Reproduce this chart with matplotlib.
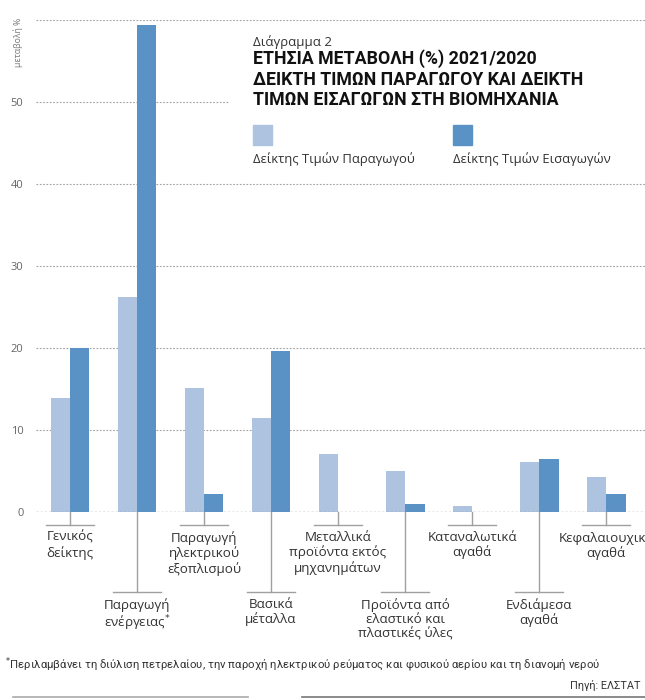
import matplotlib
matplotlib.use('Agg')
import matplotlib.pyplot as plt
import numpy as np
from matplotlib.lines import Line2D
from matplotlib.patches import Rectangle

# ---------------------------------------------------------------------------
# Data (annual change %, 2021/2020)
# ---------------------------------------------------------------------------
categories = [
    'Γενικός\nδείκτης',
    'Παραγωγή\nενέργειας$^{*}$',
    'Παραγωγή\nηλεκτρικού\nεξοπλισμού',
    'Βασικά\nμέταλλα',
    'Μεταλλικά\nπροϊόντα εκτός\nμηχανημάτων',
    'Προϊόντα από\nελαστικό και\nπλαστικές ύλες',
    'Καταναλωτικά\nαγαθά',
    'Ενδιάμεσα\nαγαθά',
    'Κεφαλαιουχικά\nαγαθά',
]
producer_prices = [13.9, 26.2, 15.1, 11.5, 7.1, 5.0, 0.7, 6.1, 4.3]
import_prices = [20.0, 59.4, 2.2, 19.6, 0.0, 1.0, 0.0, 6.5, 2.2]
yticks = [0, 10, 20, 30, 40, 50]
gridlines = [10, 20, 30, 40, 50, 60]

series_names = ['Δείκτης Τιμών Παραγωγού', 'Δείκτης Τιμών Εισαγωγών']
LIGHT = '#adc3df'
DARK = '#5a92c6'
GRID = '#a0a0a0'
TEXT = '#333333'
NARROW = ['Roboto', 'DejaVu Sans']

plt.rcParams['font.family'] = ['Open Sans', 'DejaVu Sans']

W, H = 645, 700
fig = plt.figure(figsize=(W / 100, H / 100), dpi=100)
ax = fig.add_axes([36 / W, 1 - 512 / H, (W - 36) / W, (512 - 20) / H])

x = np.arange(len(categories))
bw = 0.285
ax.bar(x - bw / 2 - 0.005, producer_prices, bw, color=LIGHT, zorder=2)
ax.bar(x + bw / 2 + 0.005, import_prices, bw, color=DARK, zorder=2)

ax.set_xlim(-0.507, 8.58)
ax.set_ylim(0, 60)

# dotted gridlines; the 50 line stops before the title block
for g in gridlines:
    xmax = 0.315 if g == 50 else 1.0
    ax.axhline(g, xmin=0, xmax=xmax, color=GRID, lw=0.8, ls=(0, (1.5, 1.5)), zorder=1)
ax.axhline(0, color='#7f93ab', lw=1.0, ls=(0, (1.5, 1.5)), zorder=3)

for s in ax.spines.values():
    s.set_visible(False)
ax.set_xticks([])
ax.set_yticks(yticks)
ax.set_yticklabels([str(v) for v in yticks], color='#666666', fontsize=8)
ax.tick_params(axis='y', length=0, pad=9)

ax.text(-0.78, 60.3, 'μεταβολή %', rotation=90, ha='center', va='top',
        fontsize=6.3, color='#777777', clip_on=False)

# category labels with leader lines, alternating short / long
for i, label in enumerate(categories):
    long = i % 2 == 1
    y_end = -9.75 if long else -1.6
    ax.add_line(Line2D([i, i], [0, y_end], color=GRID, lw=1.0, clip_on=False))
    ax.add_line(Line2D([i - 0.36, i + 0.36], [y_end, y_end], color=GRID, lw=1.0,
                       clip_on=False))
    ax.text(i, y_end - 0.7, label, ha='center', va='top', fontsize=9.6,
            color=TEXT, linespacing=1.15, clip_on=False)

# title block
fig.text(253 / W, 1 - 35 / H, 'Διάγραμμα 2', fontsize=9.5, color=TEXT, va='top')
fig.text(253 / W, 1 - 49 / H,
         'ΕΤΗΣΙΑ ΜΕΤΑΒΟΛΗ (%) 2021/2020\nΔΕΙΚΤΗ ΤΙΜΩΝ ΠΑΡΑΓΩΓΟΥ ΚΑΙ ΔΕΙΚΤΗ\n'
         'ΤΙΜΩΝ ΕΙΣΑΓΩΓΩΝ ΣΤΗ ΒΙΟΜΗΧΑΝΙΑ',
         fontsize=12.8, fontweight='bold', color='#111111', va='top',
         linespacing=1.2, family=NARROW)

# legend
for x0, col, name in [(253, LIGHT, series_names[0]), (453, DARK, series_names[1])]:
    fig.add_artist(Rectangle((x0 / W, 1 - 145 / H), 19 / W, 20 / H,
                             transform=fig.transFigure, color=col))
    fig.text(x0 / W, 1 - 152 / H, name, fontsize=9.4, color=TEXT, va='top')

# footnote and source
fig.text(5 / W, 1 - 655 / H,
         '$^{*}$Περιλαμβάνει τη διύλιση πετρελαίου, την παροχή ηλεκτρικού ρεύματος '
         'και φυσικού αερίου και τη διανομή νερού',
         fontsize=8.2, color=TEXT, va='top', family=NARROW)
fig.text(640 / W, 1 - 680 / H, 'Πηγή: ΕΛΣΤΑΤ', fontsize=7.8, color=TEXT,
         ha='right', va='top', family=NARROW)
fig.add_artist(Line2D([13 / W, 248 / W], [1 - 697 / H] * 2, color='#aaaaaa', lw=1.2,
                      transform=fig.transFigure))
fig.add_artist(Line2D([302 / W, 645 / W], [1 - 697 / H] * 2, color='#777777', lw=1.2,
                      transform=fig.transFigure))

fig.savefig('out.png', dpi=100)
